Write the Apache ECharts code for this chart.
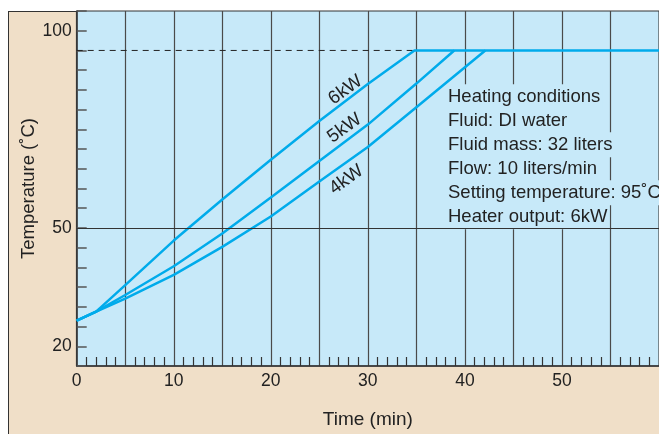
<!DOCTYPE html>
<html>
<head>
<meta charset="utf-8">
<script src="https://cdn.jsdelivr.net/npm/echarts@6/dist/echarts.min.js"></script>
<style>
  html, body { margin: 0; padding: 0; background: #fff; }
  #wrap { position: relative; width: 659px; height: 434px; overflow: hidden; }
  #panel { position: absolute; left: 8px; top: 11px; width: 700px; height: 500px;
           background: #f0dfc8; border-left: 1.5px solid #333; border-top: 1.5px solid #333; }
  #chart { position: absolute; left: 0; top: 0; width: 659px; height: 434px; }
</style>
</head>
<body>
<div id="wrap">
  <div id="panel"></div>
  <div id="chart"></div>
</div>
<script>
// time (min), temperature (°C)
const kw6 = [[0, 26.5], [2, 28.8], [5, 35.5], [10, 46.8], [15, 57.2], [20, 67.3], [25, 77.1], [30, 86.5], [34.8, 95], [60, 95]];
const kw5 = [[0, 26.5], [2, 28.8], [5, 33.0], [10, 40.3], [15, 48.6], [20, 57.7], [25, 67.0], [30, 76.2], [35, 86.6], [38.9, 95]];
const kw4 = [[0, 26.5], [2, 28.8], [5, 32.1], [10, 38.1], [15, 45.2], [20, 52.9], [25, 61.8], [30, 70.5], [35, 80.6], [42.1, 95]];
const setPoint = [[0, 95], [34.8, 95]];
const yLabels = [20, 50, 100];
const xLabels = [0, 10, 20, 30, 40, 50];
const curveLabels = [
  { text: "6kW", at: [27.7, 85.0] },
  { text: "5kW", at: [27.6, 75.3] },
  { text: "4kW", at: [27.8, 62.2] },
];
const notes = [
  "Heating conditions",
  "Fluid: DI water",
  "Fluid mass: 32 liters",
  "Flow: 10 liters/min",
  "Setting temperature: 95˚C",
  "Heater output: 6kW",
];

const font = '"Liberation Sans", Arial, sans-serif';
const blue = "#00abeb";
const plotBg = "#c7e9f9";

const myCharts = echarts.init(document.getElementById("chart"));

let lineSeries = (data, extra) =>
  Object.assign({
    type: "line",
    data: data,
    symbol: "none",
    smooth: false,
    lineStyle: { color: blue, width: 2.5 },
    z: 3,
  }, extra || {});

let options = {
  backgroundColor: "transparent",
  animation: false,
  grid: {
    left: 76.7,
    top: 11,
    bottom: 67,
    right: -7,
    show: true,
    backgroundColor: plotBg,
    borderColor: "#333",
    borderWidth: 1,
  },
  xAxis: {
    type: "value",
    min: 0,
    max: 60,
    interval: 5,
    name: "Time (min)",
    nameLocation: "middle",
    nameGap: 44,
    nameMoveOverlap: false,
    nameTextStyle: { fontFamily: font, fontSize: 19, color: "#222" },
    axisLine: { show: true, lineStyle: { color: "#333", width: 1.5 } },
    axisTick: { show: false, inside: true },
    minorTick: { show: true, splitNumber: 5, length: 9, lineStyle: { color: "#333", width: 1.2 } },
    axisLabel: {
      margin: 6,
      fontFamily: font,
      fontSize: 17.5,
      color: "#222",
      showMaxLabel: false,
      formatter: (v) => (xLabels.indexOf(v) >= 0 ? String(v) : ""),
    },
    splitLine: { show: true, lineStyle: { color: "#4a4a4a", width: 1.2 } },
  },
  yAxis: {
    type: "value",
    min: 15,
    max: 105,
    interval: 5,
    name: "Temperature (˚C)",
    nameLocation: "middle",
    nameGap: 38,
    nameMoveOverlap: false,
    nameTextStyle: { fontFamily: font, fontSize: 18.5, color: "#222" },
    axisLine: { show: true, lineStyle: { color: "#333", width: 1.5 } },
    axisTick: { show: true, inside: true, length: 10, lineStyle: { color: "#555", width: 1.5 } },
    axisLabel: {
      margin: 5,
      fontFamily: font,
      fontSize: 17.5,
      color: "#222",
      formatter: (v) => (yLabels.indexOf(v) >= 0 ? String(v) : ""),
    },
    splitLine: { show: false },
  },
  series: [
    lineSeries(setPoint, {
      lineStyle: { color: "#222", width: 1, type: [6, 5] },
      z: 2,
      markLine: {
        silent: true,
        symbol: ["none", "none"],
        label: { show: false },
        lineStyle: { color: "#333", width: 1, type: "solid" },
        data: [{ yAxis: 50 }],
      },
    }),
    lineSeries(kw4),
    lineSeries(kw5),
    lineSeries(kw6),
  ],
};
myCharts.setOption(options, true);

// annotation text: curve names placed in data coords, condition notes in pixels
let graphics = [];
curveLabels.forEach((item) => {
  let p = myCharts.convertToPixel({ gridIndex: 0 }, item.at);
  graphics.push({
    type: "text",
    x: p[0],
    y: p[1],
    rotation: (36 * Math.PI) / 180,
    z: 5,
    style: {
      text: item.text,
      fontFamily: font,
      fontSize: 18.5,
      fill: "#222",
      align: "center",
      verticalAlign: "middle",
    },
  });
});
notes.forEach((line, i) => {
  graphics.push({
    type: "text",
    x: 446,
    y: 96.7 + i * 24,
    z: 1,
    style: {
      text: line,
      fontFamily: font,
      fontSize: 18.5,
      fill: "#222",
      verticalAlign: "middle",
      backgroundColor: plotBg,
      padding: [3, 2],
    },
  });
});
myCharts.setOption({ graphic: graphics });
</script>
</body>
</html>
